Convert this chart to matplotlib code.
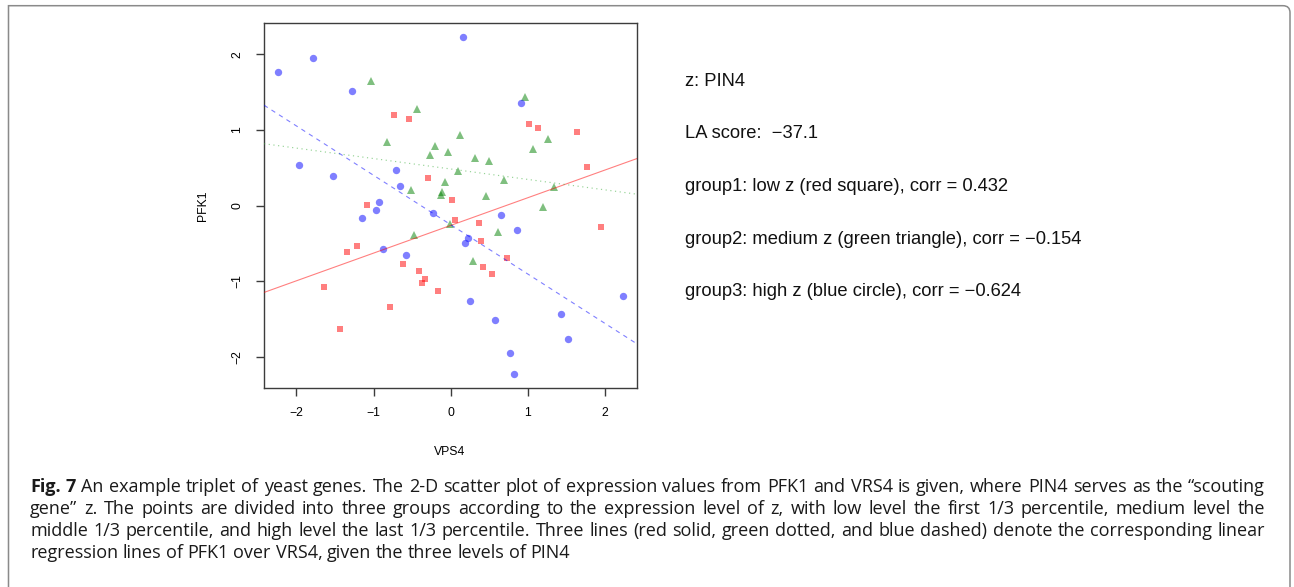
import numpy as np
import matplotlib
matplotlib.use("Agg")
import matplotlib.pyplot as plt
from matplotlib.path import Path
from matplotlib.patches import PathPatch
from matplotlib.font_manager import FontProperties
import matplotlib.transforms as mtransforms

W, H, DPI = 1294, 587, 100

# ---------------- data ----------------
red_x = [-0.74, -0.54, -0.30, -1.08, 0.02, 1.02, 1.13, 1.63, 1.77, 0.06,
         -1.21, -1.35, -0.62, -0.41, -0.33, -0.37, -0.17, -1.64, -0.79, -1.44,
         0.36, 1.95, 0.39, 0.73, 0.42, 0.54]
red_y = [1.20, 1.14, 0.37, 0.01, 0.07, 1.08, 1.03, 0.97, 0.51, -0.19,
         -0.54, -0.62, -0.78, -0.87, -0.97, -1.02, -1.13, -1.08, -1.34, -1.63,
         -0.23, -0.29, -0.47, -0.69, -0.82, -0.91]

green_x = [-1.03, -0.44, -0.83, -0.20, -0.27, -0.04, -0.07, -0.51, -0.11, -0.13,
           0.96, 0.12, 1.26, 1.07, 0.32, 0.50, 0.09, 0.69, 0.46, 1.34,
           1.20, -0.01, -0.47, 0.61, 0.29]
green_y = [1.65, 1.28, 0.84, 0.79, 0.67, 0.71, 0.31, 0.20, 0.18, 0.14,
           1.44, 0.93, 0.88, 0.75, 0.63, 0.59, 0.45, 0.34, 0.12, 0.24,
           -0.02, -0.24, -0.39, -0.35, -0.73]

blue_x = [-2.24, -1.78, -1.28, -1.96, -1.53, -0.71, -0.66, -0.93, -0.97, -1.15,
          -0.23, 0.16, 0.91, 0.65, -0.88, -0.58, 0.86, 0.22, 0.19, 2.23,
          0.25, 1.43, 0.57, 1.52, 0.77, 0.82]
blue_y = [1.77, 1.95, 1.52, 0.54, 0.39, 0.47, 0.26, 0.04, -0.06, -0.16,
          -0.10, 2.23, 1.35, -0.13, -0.58, -0.65, -0.33, -0.43, -0.50, -1.20,
          -1.26, -1.43, -1.52, -1.77, -1.95, -2.23]

x_ticks = [-2, -1, 0, 1, 2]
y_ticks = [-2, -1, 0, 1, 2]
x_label = "VPS4"
y_label = "PFK1"

info_lines = [
    "z: PIN4",
    "LA score:  \u221237.1",
    "group1: low z (red square), corr = 0.432",
    "group2: medium z (green triangle), corr = \u22120.154",
    "group3: high z (blue circle), corr = \u22120.624",
]

caption_lines = [
    "Fig. 7 An example triplet of yeast genes. The 2-D scatter plot of expression values from PFK1 and VRS4 is given, where PIN4 serves as the \u201cscouting",
    "gene\u201d z. The points are divided into three groups according to the expression level of z, with low level the first 1/3 percentile, medium level the",
    "middle 1/3 percentile, and high level the last 1/3 percentile. Three lines (red solid, green dotted, and blue dashed) denote the corresponding linear",
    "regression lines of PFK1 over VRS4, given the three levels of PIN4",
]

# ---------------- figure ----------------
fig = plt.figure(figsize=(W / DPI, H / DPI), dpi=DPI)
fig.patch.set_facecolor("white")
pix = mtransforms.Affine2D().scale(1.0 / W, -1.0 / H).translate(0, 1) + fig.transFigure

# outer frame (rounded top-right corner)
r = 7
verts = [(8.5, 600), (8.5, 5.7), (1290 - r, 5.7), (1290, 5.7), (1290, 5.7 + r), (1290, 600)]
codes = [Path.MOVETO, Path.LINETO, Path.LINETO, Path.CURVE3, Path.CURVE3, Path.LINETO]
fig.patches.append(PathPatch(Path(verts, codes), transform=pix, fill=False,
                             edgecolor="#8a8a8a", lw=1.1, figure=fig))

L, R, T, B = 264, 636.7, 23.3, 387.7
ax = fig.add_axes([L / W, 1 - B / H, (R - L) / W, (B - T) / H])
ax.set_xlim(-2.42, 2.41)
ax.set_ylim(-2.41, 2.41)

tick_font = "Liberation Sans"
ms = 5.0
ax.plot(red_x, red_y, linestyle="none", marker="s", markersize=ms,
        markeredgewidth=0, color="red", alpha=0.5, zorder=2)
ax.plot(green_x, green_y, linestyle="none", marker="^", markersize=ms + 1.4,
        markeredgewidth=0, color="green", alpha=0.5, zorder=2)
ax.plot(blue_x, blue_y, linestyle="none", marker="o", markersize=ms + 0.3,
        markeredgewidth=0, color="blue", alpha=0.5, zorder=2)

# regression lines of each group (fitted from the group's points)
mr, br = np.polyfit(red_x, red_y, 1)
mg, bg = np.polyfit(green_x, green_y, 1)
mb, bb = np.polyfit(blue_x, blue_y, 1)
ax.axline((0, br), slope=mr, color="red", alpha=0.5, lw=0.8, zorder=3)
ax.axline((0, bg), slope=mg, color="#40b040", alpha=0.55, lw=0.85,
          linestyle=(0, (1, 3)), zorder=3)
ax.axline((0, bb), slope=mb, color="blue", alpha=0.5, lw=0.8,
          linestyle=(0, (4, 4)), zorder=3)

for s in ax.spines.values():
    s.set_color("#3c3c3c")
    s.set_linewidth(1.0)
ax.set_xticks(x_ticks)
ax.set_yticks(y_ticks)
ax.set_xticklabels([str(v).replace("-", "\u2212") for v in x_ticks],
                   family=tick_font, fontsize=8.8)
ax.set_yticklabels([str(v).replace("-", "\u2212") for v in y_ticks],
                   family=tick_font, fontsize=8.8, rotation=90, va="center")
ax.tick_params(axis="both", direction="out", length=6, width=1.0, color="#3c3c3c")
ax.tick_params(axis="x", pad=8)
ax.tick_params(axis="y", pad=9)

fig.text(450 / W, 1 - 451.7 / H, x_label, family=tick_font, fontsize=8.8,
         ha="center", va="center")
fig.text(203 / W, 1 - 205.5 / H, y_label, family=tick_font, fontsize=8.8,
         ha="center", va="center", rotation=90)

# right-hand text block
info_y = [81.7, 134.0, 186.7, 240.0, 291.7]
for s, yy in zip(info_lines, info_y):
    fig.text(685 / W, 1 - yy / H, s, family=tick_font, fontsize=13.2,
             ha="left", va="center", color="#111111")

# ---------------- caption (justified) ----------------
fig.canvas.draw()
renderer = fig.canvas.get_renderer()
cap_family = "Open Sans"


def fp_for(size, bold=False):
    return FontProperties(family=cap_family, size=size,
                          weight="bold" if bold else "normal")


def width(s, fp):
    w, h, d = renderer.get_text_width_height_descent(s, fp, ismath=False)
    return w


cap_left, cap_right = 30.0, 1265.0
target = cap_right - cap_left
words_lines = [ln.split(" ") for ln in caption_lines]
bold_set = {(0, 0), (0, 1)}

fs0 = 10.0
sp0 = width("a a", fp_for(fs0)) - 2 * width("a", fp_for(fs0))
nat = []
for li, words in enumerate(words_lines):
    tot = sum(width(w, fp_for(fs0, (li, wi) in bold_set)) for wi, w in enumerate(words))
    nat.append(tot + (len(words) - 1) * sp0)
cap_fs = min(13.0, fs0 * target * 0.99 / max(nat[:3]))

baselines = [492.0, 514.0, 536.0, 558.0]
sp = width("a a", fp_for(cap_fs)) - 2 * width("a", fp_for(cap_fs))
for li, words in enumerate(words_lines):
    ws = [width(w, fp_for(cap_fs, (li, wi) in bold_set)) for wi, w in enumerate(words)]
    if li < 3:
        gap = (target - sum(ws)) / (len(words) - 1)
    else:
        gap = sp
    x = cap_left
    for wi, (w, wpx) in enumerate(zip(words, ws)):
        fig.text(x, baselines[li], w, transform=pix,
                 fontproperties=fp_for(cap_fs, (li, wi) in bold_set),
                 ha="left", va="baseline", color="#1a1a1a")
        x += wpx + gap

fig.savefig("out.png", dpi=DPI, facecolor="white")
